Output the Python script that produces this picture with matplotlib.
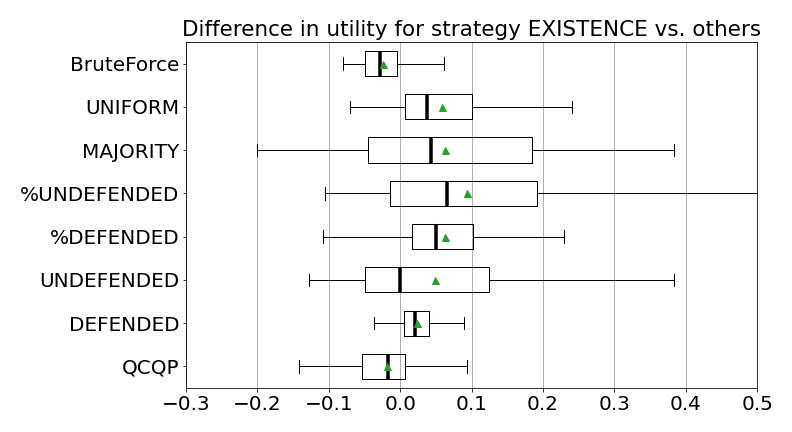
import matplotlib
matplotlib.use("Agg")
import matplotlib.pyplot as plt

# strategies, bottom to top
labels = ["QCQP", "DEFENDED", "UNDEFENDED", "%DEFENDED",
          "%UNDEFENDED", "MAJORITY", "UNIFORM", "BruteForce"]
whislo = [-0.142, -0.037, -0.128, -0.108, -0.106, -0.200, -0.070, -0.080]
q1     = [-0.053,  0.005, -0.050,  0.017, -0.015, -0.045,  0.006, -0.049]
med    = [-0.017,  0.020,  0.000,  0.050,  0.065,  0.043,  0.038, -0.028]
means  = [-0.019,  0.023,  0.048,  0.063,  0.094,  0.063,  0.058, -0.024]
q3     = [ 0.006,  0.040,  0.124,  0.102,  0.191,  0.184,  0.100, -0.005]
whishi = [ 0.093,  0.089,  0.383,  0.230,  0.620,  0.383,  0.240,  0.061]

stats = []
for i in range(len(labels)):
    stats.append(dict(label=labels[i], whislo=whislo[i], q1=q1[i], med=med[i],
                      mean=means[i], q3=q3[i], whishi=whishi[i], fliers=[]))

fig = plt.figure(figsize=(11, 6), dpi=72)
ax = fig.add_axes([0.235, 0.102, 0.721, 0.801])
ax.bxp(stats, vert=False, showmeans=True, widths=0.58,
       medianprops=dict(color="black", linewidth=3.5),
       meanprops=dict(marker="^", markerfacecolor="tab:green",
                      markeredgecolor="tab:green", markersize=7))
ax.set_xlim(-0.3, 0.5)
ax.set_xticks([-0.3, -0.2, -0.1, 0.0, 0.1, 0.2, 0.3, 0.4, 0.5])
ax.xaxis.grid(True, color="#b0b0b0", linewidth=1)
ax.set_axisbelow(True)
ax.tick_params(labelsize=20)
ax.set_title("Difference in utility for strategy EXISTENCE vs. others", fontsize=21.5)

fig.savefig("out.png", dpi=72)
